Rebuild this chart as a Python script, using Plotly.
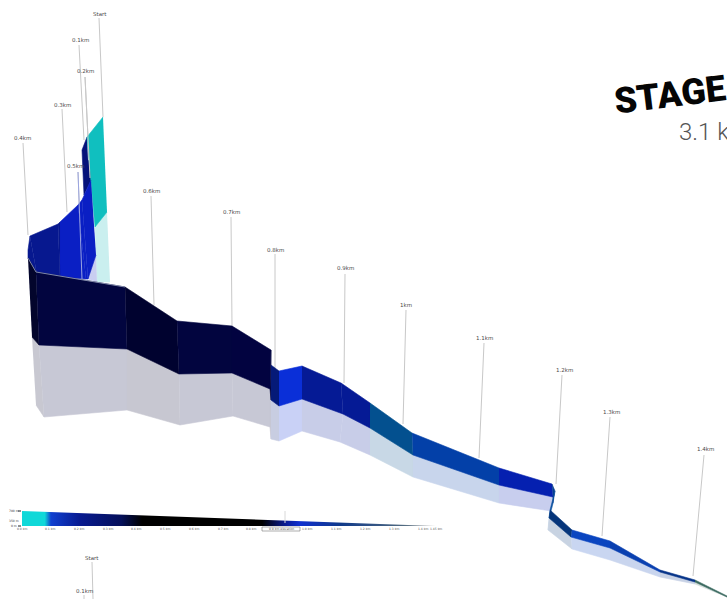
import plotly.graph_objects as go

# --- Upper ribbon stations (Start to 0.4 km)
UP_XT = [103, 87]
UP_YT = [117, 137]
UP_XB = [107, 95]
UP_YB = [212, 227]
UP_XS = [110, 97]
UP_YS = [282, 282]

NAVY_X = [87, 82, 84, 92, 92, 88]
NAVY_Y = [137, 150, 195, 178, 163, 160]

BLUE_XT = [91, 82, 78, 60, 58, 30, 28]
BLUE_YT = [180, 200, 205, 222, 224, 236, 250]
BLUE_XB = [96, 88, 86, 60, 60, 37, 28]
BLUE_YB = [255, 279, 279, 277, 277, 275, 258]
BLUE_COLORS = ["#0a1fc4", "#0a1fc4", "#0a1fc4", "#07188f", "#07188f", "#07188f"]

# --- Main ribbon stations (0.4 km to finish)
RIB_XT = [28, 36, 125, 177, 232, 271, 271, 279, 302, 341, 370, 412, 499, 552, 555, 550, 572, 610, 660, 695, 727]
RIB_YT = [258, 272, 287, 321, 326, 350, 365, 371, 366, 383, 403, 433, 468, 484, 491, 510, 530, 541, 570, 580, 596]
RIB_XB = [32, 39, 127, 179, 232, 270, 271, 279, 302, 343, 370, 413, 499, 553, 553, 549, 571, 610, 660, 695, 727]
RIB_YB = [337, 345, 349, 374, 373, 389, 400, 406, 399, 414, 428, 455, 485, 497, 503, 518, 537, 548, 572, 582, 597]
RIB_XS = [36, 44, 127, 180, 233, 270, 271, 279, 302, 340, 370, 413, 499, 551, 550, 548, 572, 610, 660, 695, 727]
RIB_YS = [405, 417, 410, 425, 416, 427, 439, 441, 431, 442, 455, 477, 503, 511, 518, 530, 549, 560, 577, 584, 597]
RIB_COLORS = ["#03052c", "#02053f", "#00022f", "#02053f", "#020340", "#020340", "#051a78", "#0a2fd8",
              "#051a95", "#051a95", "#03508f", "#0340a8", "#0520b0", "#06408f", "#0a50a0",
              "#05357a", "#0a45c0", "#0a40b0", "#053388", "#3a6a60"]
SHADOW_ALPHA = 0.22

# --- Distance markers
MARK_NAMES = ["Start", "0.1km", "0.2km", "0.3km", "0.4km", "0.5km", "0.6km", "0.7km", "0.8km",
              "0.9km", "1km", "1.1km", "1.2km", "1.3km", "1.4km"]
MARK_LX = [100, 80, 85, 62, 22, 75, 151, 231, 275, 345, 406, 484, 564, 611, 705]
MARK_LY = [14, 40, 71, 105, 138, 166, 191, 212, 250, 268, 305, 338, 370, 412, 449]
MARK_X0 = [99, 79, 85, 62, 23, 78, 151, 231, 275, 345, 406, 484, 562, 610, 704]
MARK_Y0 = [18, 45, 77, 109, 143, 172, 196, 217, 254, 274, 310, 343, 375, 417, 455]
MARK_X1 = [103, 84, 90, 67, 28, 82, 154, 232, 275, 344, 403, 479, 556, 602, 693]
MARK_Y1 = [117, 140, 178, 212, 235, 279, 305, 326, 370, 383, 424, 458, 484, 536, 576]

# --- Bottom ramp legend
RAMP_POS = [0.0, 0.055, 0.07, 0.14, 0.24, 0.29, 0.58, 0.635, 0.67, 0.77, 0.92, 1.0]
RAMP_COL = ["#10d8d8", "#10d8d8", "#1040d0", "#081a90", "#05105a", "#000000", "#000000",
            "#0a1a90", "#1030d0", "#103a8a", "#506a80", "#aaaaaa"]
RAMP_KM = ["0.0 km", "0.1 km", "0.2 km", "0.3 km", "0.4 km", "0.5 km", "0.6 km", "0.7 km", "0.8 km",
           "1.0 km", "1.1 km", "1.2 km", "1.3 km", "1.4 km", "1.45 km"]
RAMP_KX = [22, 50, 79, 108, 136, 165, 194, 223, 251, 307, 336, 365, 394, 423, 436]
RAMP_ELE = ["700 m", "350 m", "0 m"]
RAMP_EY = [511, 521, 526]
LOWER_NAMES = ["Start", "0.1km"]

GREY = "#c8c8c8"
TXT = "#4a4a4a"


def shadow(c, a=SHADOW_ALPHA):
    r, g, b = int(c[1:3], 16), int(c[3:5], 16), int(c[5:7], 16)
    m = [round(255 - (255 - v) * a) for v in (r, g, b)]
    return f"rgb({m[0]},{m[1]},{m[2]})"


fig = go.Figure()


def poly(xs, ys, color):
    fig.add_trace(go.Scatter(x=xs, y=ys, mode="lines", fill="toself", fillcolor=color,
                             line=dict(width=0.6, color=color), hoverinfo="skip", showlegend=False))


def line(xs, ys, color=GREY, w=1):
    fig.add_trace(go.Scatter(x=xs, y=ys, mode="lines", line=dict(width=w, color=color),
                             hoverinfo="skip", showlegend=False))


# marker lines behind the ribbons
for i in range(len(MARK_NAMES)):
    line([MARK_X0[i], MARK_X1[i]], [MARK_Y0[i], MARK_Y1[i]])

# upper: navy, cyan, blue
poly(NAVY_X, NAVY_Y, "#05127a")
poly([UP_XB[0], UP_XB[1], UP_XS[1], UP_XS[0]], [UP_YB[0], UP_YB[1], UP_YS[1], UP_YS[0]], shadow("#0fb8b8"))
poly([UP_XT[0], UP_XT[1], UP_XB[1], UP_XB[0]], [UP_YT[0], UP_YT[1], UP_YB[1], UP_YB[0]], "#10bfbf")
poly([BLUE_XB[0], BLUE_XB[1], UP_XS[1]], [BLUE_YB[0], BLUE_YB[1], UP_YS[1]], shadow("#0a1fbe"))
for i in range(len(BLUE_COLORS)):
    poly([BLUE_XT[i], BLUE_XT[i + 1], BLUE_XB[i + 1], BLUE_XB[i]],
         [BLUE_YT[i], BLUE_YT[i + 1], BLUE_YB[i + 1], BLUE_YB[i]], BLUE_COLORS[i])

# marker lines drawn over the blue part
line([MARK_X0[5], MARK_X1[5]], [MARK_Y0[5], MARK_Y1[5]], "#9aa4e0", 1)
line([MARK_X0[2], MARK_X1[2]], [MARK_Y0[2], MARK_Y1[2]], GREY, 1)

# main ribbon
for i in range(len(RIB_COLORS)):
    poly([RIB_XB[i], RIB_XB[i + 1], RIB_XS[i + 1], RIB_XS[i]],
         [RIB_YB[i], RIB_YB[i + 1], RIB_YS[i + 1], RIB_YS[i]], shadow(RIB_COLORS[i]))
for i in range(len(RIB_COLORS)):
    poly([RIB_XT[i], RIB_XT[i + 1], RIB_XB[i + 1], RIB_XB[i]],
         [RIB_YT[i], RIB_YT[i + 1], RIB_YB[i + 1], RIB_YB[i]], RIB_COLORS[i])
line(RIB_XT[:3], RIB_YT[:3], "#8088a8", 1)

# ramp legend: a wedge with a horizontal gradient
fig.add_trace(go.Scatter(x=[RAMP_KX[0], RAMP_KX[-1], RAMP_KX[-1], RAMP_KX[0], RAMP_KX[0]],
                         y=[RAMP_EY[0], RAMP_EY[2] - 0.6, RAMP_EY[2], RAMP_EY[2], RAMP_EY[0]],
                         mode="lines", line=dict(width=0), fill="toself", hoverinfo="skip", showlegend=False,
                         fillgradient=dict(type="horizontal",
                                           colorscale=[[p, c] for p, c in zip(RAMP_POS, RAMP_COL)])))
line([285, 285], [511, 523], "#d8d8d8", 1)
line([RAMP_KX[0] - 4, RAMP_KX[0] - 1], [RAMP_EY[0], RAMP_EY[0]], "#222222", 1)
line([RAMP_KX[0] - 4, RAMP_KX[0] - 1], [RAMP_EY[2], RAMP_EY[2]], "#222222", 1)

# lower repeated markers
line([92, 93], [562, 599])
line([84, 84], [595, 599])

shapes = [dict(type="rect", x0=262, x1=300, y0=527, y1=531, line=dict(color="#777777", width=0.6),
               fillcolor="#ffffff", layer="above")]

ann = []


def text(x, y, s, size=5.5, color=TXT, family="DejaVu Sans", angle=0, anchor="center", weight=None):
    ann.append(dict(x=x, y=y, text=s, showarrow=False, xref="x", yref="y", xanchor=anchor, yanchor="middle",
                    textangle=angle, font=dict(size=size, color=color, family=family, weight=weight)))


for i, n in enumerate(MARK_NAMES):
    text(MARK_LX[i], MARK_LY[i], n)
text(92, 558, LOWER_NAMES[0])
text(84, 591, LOWER_NAMES[1])
for k, x in zip(RAMP_KM, RAMP_KX):
    text(x, 529, k, size=3, color="#555555")
text(281, 529, "0.9 km elevation", size=3, color="#555555")
for e, y in zip(RAMP_ELE, RAMP_EY):
    text(14, y, e, size=3, color="#333333")

text(670, 95, "STAGE", size=36, color="#050505", family="Roboto", angle=-7, anchor="center", weight=900)
text(677, 132, "3.1 k", size=24, color="#555555", family="Roboto", angle=0, anchor="left", weight=300)

fig.update_layout(width=727, height=599, margin=dict(l=0, r=0, t=0, b=0), paper_bgcolor="white",
                  plot_bgcolor="white", showlegend=False, shapes=shapes, annotations=ann,
                  xaxis=dict(visible=False, range=[0, 727], fixedrange=True),
                  yaxis=dict(visible=False, range=[599, 0], fixedrange=True))
fig.write_html("out.html", post_script="document.body.style.margin='0';", config={"displayModeBar": False})
